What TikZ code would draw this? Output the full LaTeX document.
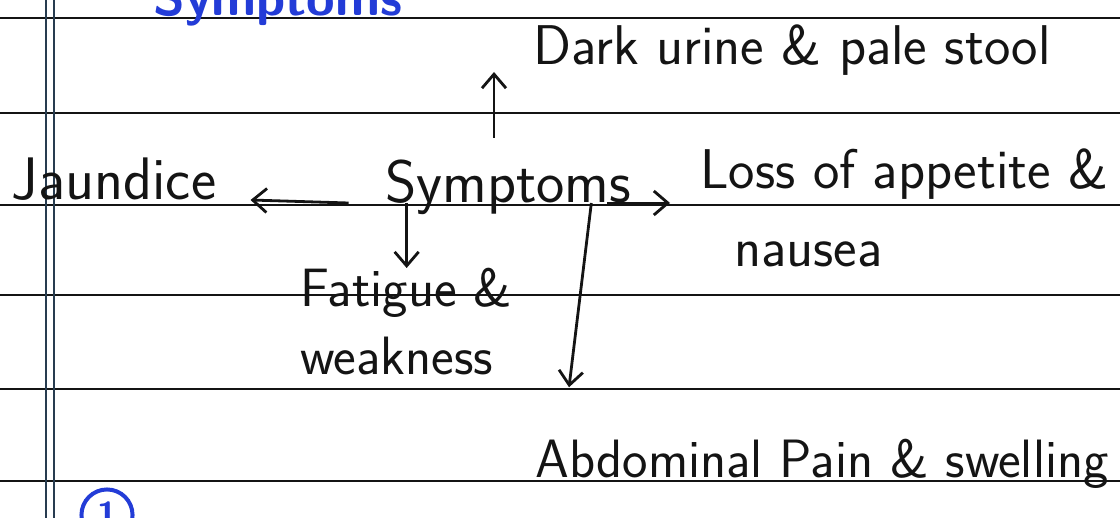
\documentclass[tikz,border=0pt]{standalone}
\usepackage{tikz}
\usetikzlibrary{arrows.meta, positioning, calc}
\definecolor{ink}{RGB}{20,20,20}
\definecolor{penblue}{RGB}{35,60,215}
\definecolor{margin}{RGB}{40,60,80}
\tikzstyle{hand}   = [inner sep=0pt, text=ink, font=\sffamily\fontsize{28}{36}\selectfont, align=left]
\tikzstyle{arrow}  = [ink, line width=1.4pt, -{Straight Barb[length=7pt,width=12pt]}]
\tikzstyle{rule}   = [ink, line width=1.2pt]

\begin{document}
\begin{tikzpicture}[x=0.5pt, y=-0.5pt]
  \useasboundingbox (0,0) rectangle (1120,518);
  \clip (0,0) rectangle (1120,518);
  \fill[white] (0,0) rectangle (1120,518);

  % ruled paper
  \foreach \y in {18,113,205,295,389,481}
    \draw[rule] (0,\y) -- (1120,\y);
  \draw[margin, line width=0.9pt] (46,0) -- (46,518);
  \draw[margin, line width=0.9pt] (54,0) -- (54,518);

  % heading cut at the top edge, and the number at the bottom
  \node[hand, anchor=base, text=penblue, font=\sffamily\bfseries\fontsize{26}{30}\selectfont]
    (title) at (278,16) {Symptoms};
  \node[circle, draw=penblue, line width=2pt, text=penblue, minimum size=24pt,
        font=\sffamily\bfseries\fontsize{18}{20}\selectfont] (num) at (107,515) {1};

  \node[hand, anchor=base, font=\sffamily\fontsize{30}{32}\selectfont] (sym) at (508,203) {Symptoms};
  \node[hand, anchor=base, font=\sffamily\fontsize{30}{32}\selectfont] (jau) at (114,200) {Jaundice};
  \node[hand, anchor=base] (dark) at (792,65)  {Dark urine \& pale stool};
  \node[hand, anchor=north west] (loss) at (700,148) {Loss of appetite \&\\[3pt]\hspace*{0.6em}nausea};
  \node[hand, anchor=north west, font=\sffamily\fontsize{27}{34}\selectfont] (fat) at (300,268) {Fatigue \&\\weakness};
  \node[hand, anchor=base, font=\sffamily\fontsize{27}{30}\selectfont] (abd) at (822,478) {Abdominal Pain \& swelling};

  \coordinate (upTip) at (494,72);
  \draw[arrow] (sym.north -| upTip) ++(0,-22) -- (upTip);
  \draw[arrow] ([xshift=-18pt]sym.base west) -- ([xshift=17pt]jau.base east);
  \draw[arrow] ([xshift=-12pt]sym.base east) -- ([xshift=-15pt]sym.base east -| loss.west);
  \draw[arrow] ([xshift=11pt]sym.base west) coordinate (fs) -- (fs |- fat.north);
  \draw[arrow] ([xshift=-20pt]sym.base east) -- ([xshift=17pt,yshift=26pt]abd.north west);
\end{tikzpicture}
\end{document}
